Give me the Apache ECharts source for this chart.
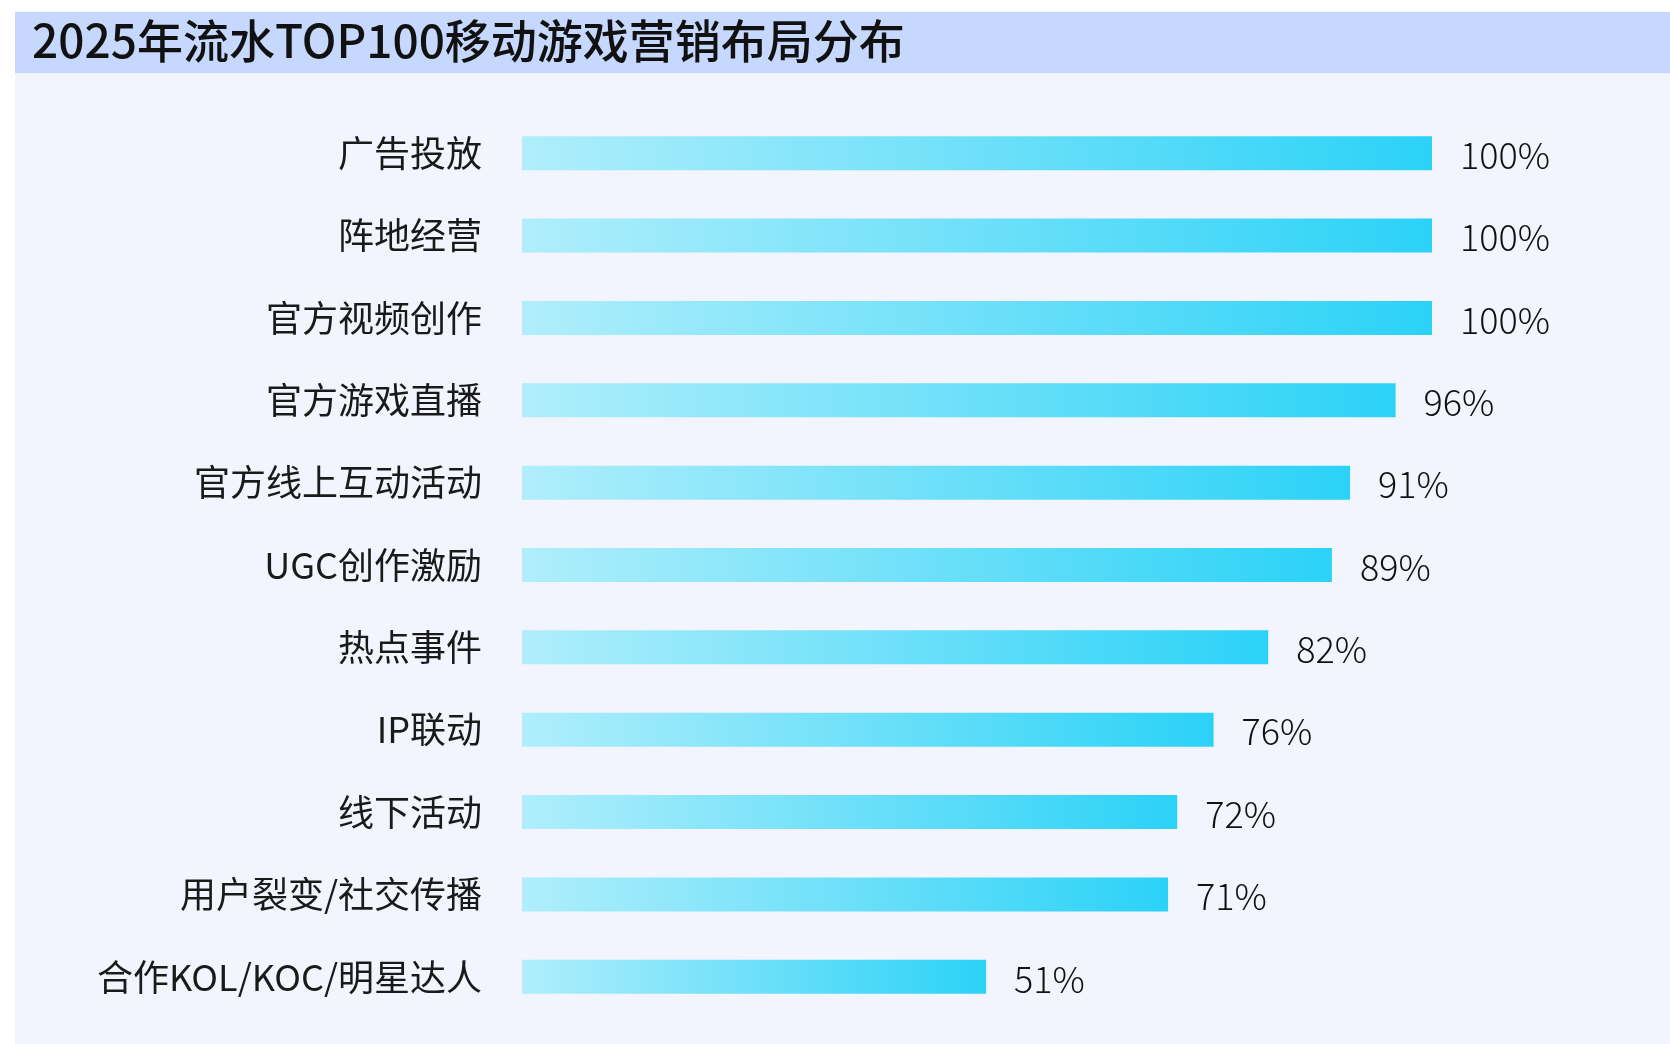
<!DOCTYPE html>
<html>
<head>
<meta charset="utf-8">
<script src="https://cdn.jsdelivr.net/npm/echarts@6/dist/echarts.min.js"></script>
<style>
html,body{margin:0;padding:0;background:#ffffff;}
#main{width:1670px;height:1044px;}
</style>
</head>
<body>
<div id="main"></div>
<script>
const titleText = '2025年流水TOP100移动游戏营销布局分布';
const categories = ['广告投放','阵地经营','官方视频创作','官方游戏直播','官方线上互动活动','UGC创作激励','热点事件','IP联动','线下活动','用户裂变/社交传播','合作KOL/KOC/明星达人'];
const values = [100,100,100,96,91,89,82,76,72,71,51];

const chart = echarts.init(document.getElementById('main'));
const fontCJK = '"Noto Sans CJK SC","Noto Sans",sans-serif';
chart.setOption({
  backgroundColor: '#ffffff',
  animation: false,
  graphic: [
    {type:'rect', z:-10, shape:{x:15,y:73,width:1655,height:971}, style:{fill:'#f2f5fe'}},
    {type:'rect', z:-10, shape:{x:15,y:12,width:1655,height:61}, style:{fill:'#c6d8fd'}}
  ],
  title: {
    text: titleText,
    left: 27,
    top: 13,
    textStyle: {fontFamily: fontCJK, fontSize: 46, fontWeight: 500, color: '#111111'}
  },
  grid: {left: 522, right: 238, top: 112, bottom: 26, containLabel: false},
  xAxis: {
    type: 'value', min: 0, max: 100, show: false,
    splitLine: {show: false}
  },
  yAxis: {
    type: 'category', data: categories, inverse: true,
    axisLine: {show: false}, axisTick: {show: false},
    axisLabel: {fontFamily: fontCJK, fontSize: 36, color: '#1a1a1a', margin: 40}
  },
  series: [{
    type: 'bar',
    data: values,
    barWidth: 34,
    itemStyle: {
      color: new echarts.graphic.LinearGradient(0,0,1,0,[
        {offset:0, color:'#b0eefb'},
        {offset:1, color:'#2bd2f7'}
      ])
    },
    label: {
      show: true, position: 'right', distance: 28, offset: [0, 2],
      formatter: '{c}%',
      fontFamily: fontCJK, fontSize: 36, fontWeight: 300, color: '#111111'
    }
  }]
});
</script>
</body>
</html>
